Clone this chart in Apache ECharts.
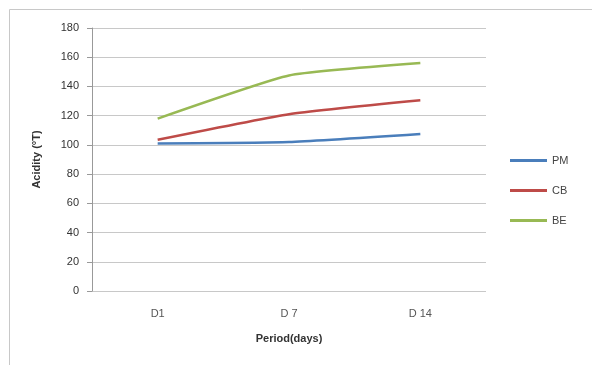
<!DOCTYPE html>
<html><head><meta charset="utf-8">
<script src="https://cdn.jsdelivr.net/npm/echarts@6/dist/echarts.min.js"></script>
<style>html,body{margin:0;padding:0;background:#fff}#c{width:592px;height:365px}</style>
</head><body><div id="c"></div>
<script>
const categories = ['D1', 'D 7', 'D 14'];
const pm = [101, 102, 107.5];
const cb = [103.5, 121, 130.5];
const be = [118, 147.5, 156];
const yTicks = {min: 0, max: 180, interval: 20};

const chart = echarts.init(document.getElementById('c'));
const font = 'Liberation Sans, Arial, sans-serif';
const mk = (name, data, color) => ({
  name, type: 'line', data, smooth: 0.15, showSymbol: false, symbol: 'none',
  lineStyle: {color, width: 2.5}, itemStyle: {color}
});
chart.setOption({
  animation: false,
  backgroundColor: '#fff',
  graphic: [{type: 'rect', shape: {x: 9.5, y: 9.5, width: 590, height: 370}, style: {fill: 'none', stroke: '#c8c8c8', lineWidth: 1}}],
  grid: {left: 92, right: 106, top: 28, bottom: 74},
  legend: {
    orient: 'vertical', left: 505, top: 150, itemGap: 19, itemWidth: 37, itemHeight: 12,
    icon: 'path://M0,5 L37,5 L37,8 L0,8 Z',
    textStyle: {fontFamily: font, fontSize: 11, color: '#444'},
    data: ['PM', 'CB', 'BE']
  },
  xAxis: {
    type: 'category', data: categories, boundaryGap: true,
    name: 'Period(days)', nameLocation: 'middle', nameGap: 42,
    nameTextStyle: {fontFamily: font, fontSize: 11, fontWeight: 'bold', color: '#333'},
    axisLine: {show: false}, axisTick: {show: false},
    axisLabel: {fontFamily: font, fontSize: 11, color: '#555', margin: 17}
  },
  yAxis: {
    type: 'value', min: yTicks.min, max: yTicks.max, interval: yTicks.interval,
    name: 'Acidity (°T)', nameLocation: 'middle', nameGap: 50, nameRotate: 90,
    nameTextStyle: {fontFamily: font, fontSize: 11, fontWeight: 'bold', color: '#333'},
    axisLine: {show: true, lineStyle: {color: '#999'}},
    axisTick: {show: true, length: 5, lineStyle: {color: '#999'}},
    axisLabel: {fontFamily: font, fontSize: 11, color: '#333', margin: 13},
    splitLine: {lineStyle: {color: '#c8c8c8', width: 1}}
  },
  series: [mk('PM', pm, '#4a7ebb'), mk('CB', cb, '#be4b48'), mk('BE', be, '#98b954')]
});
</script></body></html>
